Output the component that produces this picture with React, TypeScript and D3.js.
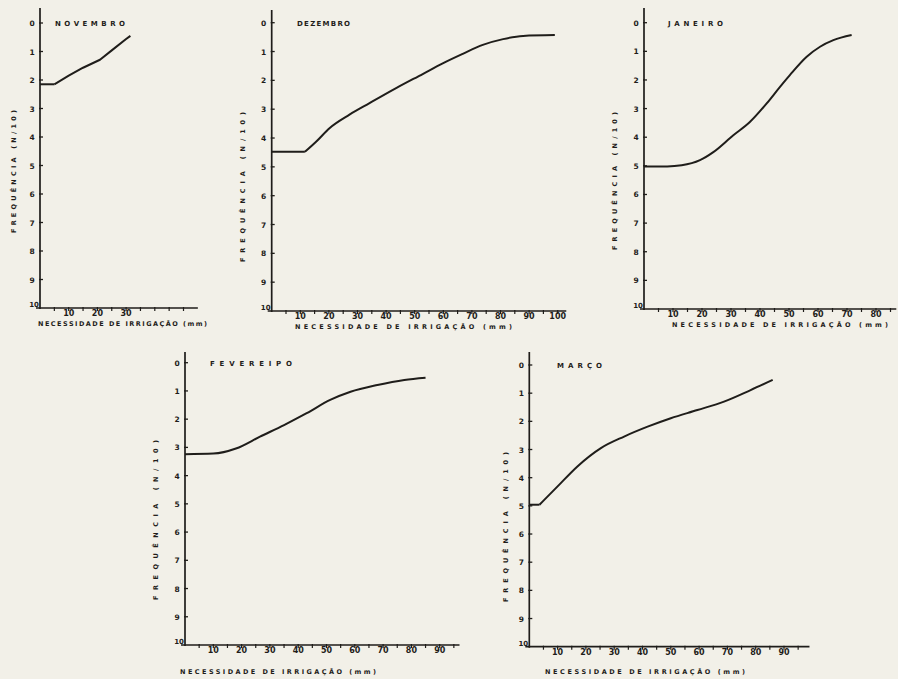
import React from "react";
import * as d3 from "d3";

const width = 898;
const height = 679;

const ink = "#1f1d1a";
const paper = "#f2f0e8";

// months
const titles = ["NOVEMBRO", "DEZEMBRO", "JANEIRO", "FEVEREIPO", "MARÇO"];
const xLabel = "NECESSIDADE DE IRRIGAÇÃO (mm)";
const yLabel = "FREQUÊNCIA (N/10)";
const yTickValues = [0, 1, 2, 3, 4, 5, 6, 7, 8, 9, 10];

// irrigation need (mm) / frequency (N/10)
const novX = [0, 5, 10, 15, 20.9, 25, 30, 31.5];
const novY = [2.15, 2.15, 1.85, 1.57, 1.29, 0.96, 0.56, 0.45];

const dezX = [0, 11.6, 15.6, 20.2, 27.2, 34.2, 43.5, 52.8, 59.8, 66.8, 73.8, 80.9, 87.9, 99];
const dezY = [4.48, 4.48, 4.12, 3.66, 3.19, 2.79, 2.27, 1.78, 1.41, 1.08, 0.77, 0.57, 0.46, 0.43];

const janX = [0, 8, 13, 19.3, 23.9, 30.8, 36.5, 42.3, 46.9, 50.3, 56.1, 60.7, 65.3, 71.6];
const janY = [5.02, 5.02, 4.98, 4.8, 4.52, 3.93, 3.47, 2.82, 2.24, 1.83, 1.19, 0.84, 0.61, 0.43];

const fevX = [0, 10, 18, 26.5, 35, 43, 51.3, 58.5, 68, 77.5, 85];
const fevY = [3.24, 3.22, 3.04, 2.62, 2.21, 1.79, 1.32, 1.03, 0.79, 0.61, 0.53];

const marX = [0, 3.6, 10, 17, 25.3, 33.5, 41.8, 50, 59.4, 68.8, 78.2, 86];
const marY = [4.96, 4.96, 4.31, 3.6, 2.95, 2.54, 2.19, 1.89, 1.6, 1.3, 0.89, 0.53];

const seriesX = [novX, dezX, janX, fevX, marX];
const seriesY = [novY, dezY, janY, fevY, marY];
const xLabelMax = [30, 100, 80, 90, 90];
const xAxisMax = [55, 103, 87, 97, 99];
// index where the flat start ends (kink)
const kinks = [1, 1, -1, -1, 1];

// placement of each panel on the page
const layout = [
  { ox: 40, y0: 23, y10: 308, unit: 2.87, top: 8, tx: 55, tw: 70, xl: [38, 207, 326], yl: [16, 110, 233] },
  { ox: 271.7, y0: 22.7, y10: 311, unit: 2.86, top: 10, tx: 297, tw: 53, xl: [295, 512, 329], yl: [245, 112, 262] },
  { ox: 644, y0: 22.7, y10: 309, unit: 2.9, top: 8, tx: 668, tw: 55, xl: [672, 888, 327], yl: [617, 112, 250] },
  { ox: 185, y0: 362.7, y10: 645, unit: 2.83, top: 352, tx: 210, tw: 82, xl: [180, 376, 674], yl: [158, 440, 600] },
  { ox: 529.3, y0: 365, y10: 646.7, unit: 2.83, top: 352, tx: 557, tw: 45, xl: [545, 745, 674], yl: [508, 452, 602] },
];

const font = "'DejaVu Sans', sans-serif";

function Panel({ i }: { i: number }) {
  const L = layout[i];
  const xs = seriesX[i];
  const ys = seriesY[i];
  const x = d3
    .scaleLinear()
    .domain([0, xAxisMax[i]])
    .range([L.ox, L.ox + xAxisMax[i] * L.unit]);
  const y = d3.scaleLinear().domain([0, 10]).range([L.y0, L.y10]);
  const pts: [number, number][] = xs.map((v, k) => [v, ys[k]]);

  const smooth = d3
    .line<[number, number]>()
    .x((d) => x(d[0]))
    .y((d) => y(d[1]))
    .curve(d3.curveMonotoneX);
  const straight = d3
    .line<[number, number]>()
    .x((d) => x(d[0]))
    .y((d) => y(d[1]));

  const k = kinks[i];
  const paths =
    k > 0
      ? [straight(pts.slice(0, k + 1)), i === 0 ? straight(pts.slice(k)) : smooth(pts.slice(k))]
      : [smooth(pts)];

  const minor = d3.range(5, xAxisMax[i], 5);
  const labeled = d3.range(10, xLabelMax[i] + 1, 10);
  const axisY = y(10);

  return (
    <g>
      {/* y axis */}
      <line x1={L.ox} x2={L.ox} y1={L.top} y2={axisY + 1} stroke={ink} strokeWidth={1.7} />
      {yTickValues.map((t) => (
        <g key={t}>
          {t < 10 && <line x1={L.ox - 1} x2={L.ox + 3} y1={y(t)} y2={y(t)} stroke={ink} strokeWidth={1.3} />}
          <text
            x={t === 10 ? L.ox - 6 : L.ox - 8}
            y={y(t) + (t === 10 ? -1 : 3)}
            fontSize={t === 10 ? 7 : 7.5}
            fontWeight="bold"
            textAnchor="middle"
            fill={ink}
            fontFamily={font}
          >
            {t}
          </text>
        </g>
      ))}
      {/* x axis */}
      <line x1={L.ox - 4} x2={x(xAxisMax[i])} y1={axisY} y2={axisY} stroke={ink} strokeWidth={1.7} />
      {minor.map((t) => (
        <line key={t} x1={x(t)} x2={x(t)} y1={axisY - 1} y2={axisY + 3} stroke={ink} strokeWidth={1.2} />
      ))}
      {labeled.map((t) => (
        <text
          key={t}
          x={x(t)}
          y={axisY + 8}
          fontSize={8}
          fontWeight="bold"
          textAnchor="middle"
          fill={ink}
          fontFamily={font}
        >
          {t}
        </text>
      ))}
      {/* title */}
      <text
        x={L.tx}
        y={L.y0 + 3}
        fontSize={7}
        fontWeight="bold"
        fill={ink}
        fontFamily={font}
        textLength={L.tw}
        lengthAdjust="spacing"
      >
        {titles[i]}
      </text>
      {/* axis titles */}
      <text
        x={L.xl[0]}
        y={L.xl[2]}
        fontSize={6.5}
        fontWeight="bold"
        fill={ink}
        fontFamily={font}
        textLength={L.xl[1] - L.xl[0]}
        lengthAdjust="spacing"
      >
        {xLabel}
      </text>
      <text
        transform={`translate(${L.yl[0]},${L.yl[2]}) rotate(-90)`}
        fontSize={6.5}
        fontWeight="bold"
        fill={ink}
        fontFamily={font}
        textLength={L.yl[2] - L.yl[1]}
        lengthAdjust="spacing"
      >
        {yLabel}
      </text>
      {/* curve */}
      {paths.map((p, n) => (
        <path key={n} d={p || ""} fill="none" stroke={ink} strokeWidth={2} strokeLinejoin="round" />
      ))}
    </g>
  );
}

export default function App() {
  return (
    <svg
      width={width}
      height={height}
      style={{ position: "absolute", left: 0, top: 0, background: paper }}
    >
      <rect width={width} height={height} fill={paper} />
      {titles.map((_, i) => (
        <Panel key={i} i={i} />
      ))}
    </svg>
  );
}
